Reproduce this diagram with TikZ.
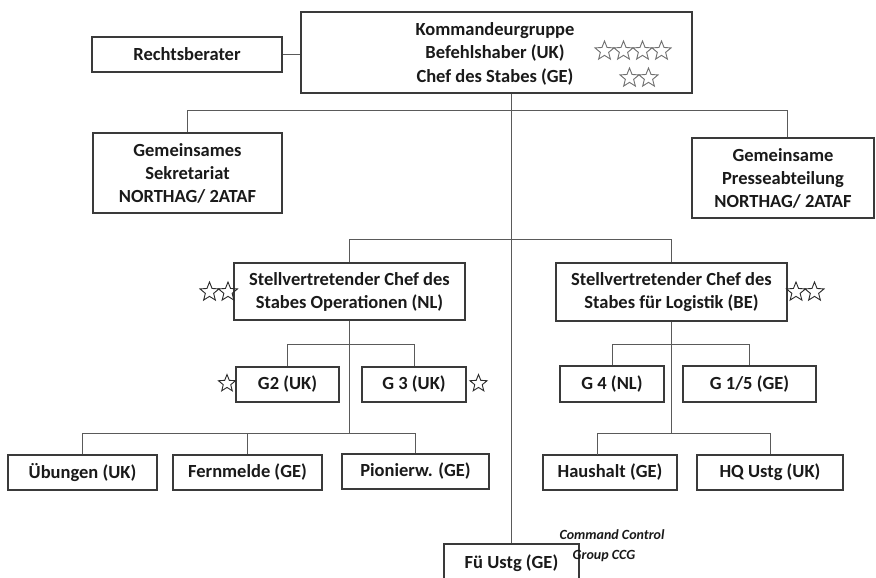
\documentclass[tikz,border=0pt]{standalone}
\usepackage{fontspec}
\usetikzlibrary{shapes.geometric}
\setmainfont{Carlito}
\definecolor{boxc}{HTML}{3A3A3A}
\definecolor{linec}{HTML}{5A5A5A}
\definecolor{txtc}{HTML}{1A1A1A}
\definecolor{starc}{HTML}{707070}
\definecolor{stard}{HTML}{2A2A2A}
\begin{document}
\begin{tikzpicture}[x=1pt,y=-1pt,
  box/.style={draw=boxc, line width=1.2pt, fill=white, inner sep=0pt, align=center,
    text=txtc, font=\bfseries\fontsize{18.5}{23}\selectfont},
  conn/.style={draw=linec, line width=1pt},
  starg/.style={star, star points=5, star point ratio=2.3, minimum size=20, inner sep=0pt,
    draw=starc, line width=0.9pt},
  stark/.style={star, star points=5, star point ratio=2.3, minimum size=20, inner sep=0pt,
    draw=stard, line width=0.9pt},
  note/.style={text=txtc, inner sep=0pt, font=\bfseries\itshape\fontsize{14}{16}\selectfont}]
\useasboundingbox (0,0) rectangle (876,578);
\fill[white] (0,0) rectangle (876,578);

% nodes
\node[box, minimum width=190, minimum height=35] (R) at (187,54.5) {Rechtsberater};
\node[box, minimum width=391, minimum height=81] (K) at (496.5,52.5) {};
\node[text=txtc, align=center, inner sep=0pt, font=\bfseries\fontsize{18.5}{23.5}\selectfont] (Kt) at (495,53.5)
  {Kommandeurgruppe\\Befehlshaber (UK)\\Chef des Stabes (GE)};
\node[starg] (Ka) at (604.5,51) {};
\node[starg] (Kb) at (623.5,51) {};
\node[starg] (Kc) at (642.5,51) {};
\node[starg] (Kd) at (661.5,51) {};
\node[starg] (Ke) at (629.5,78) {};
\node[starg] (Kf) at (648.5,78) {};
\node[box, minimum width=189, minimum height=80] (S) at (187.5,173)
  {Gemeinsames\\Sekretariat\\NORTHAG/ 2ATAF};
\node[box, minimum width=182, minimum height=80] (P) at (783,178)
  {Gemeinsame\\Presseabteilung\\NORTHAG/ 2ATAF};
\node[box, minimum width=231, minimum height=57] (O) at (349.5,291.5)
  {Stellvertretender Chef des\\Stabes Operationen (NL)};
\node[box, minimum width=231, minimum height=58] (L) at (671.5,292)
  {Stellvertretender Chef des\\Stabes für Logistik (BE)};
\node[stark] (Oa) at (209.5,292) {};
\node[stark] (Ob) at (228,292) {};
\node[stark] (La) at (796,292) {};
\node[stark] (Lb) at (814.5,292) {};
\node[box, minimum width=103, minimum height=35] (G2) at (287.5,384.5) {G2 (UK)};
\node[box, minimum width=104, minimum height=35] (G3) at (414,384.5) {G 3 (UK)};
\node[stark, minimum size=18] (G2s) at (227,383.5) {};
\node[stark, minimum size=18] (G3s) at (478.5,383.5) {};
\node[box, minimum width=104, minimum height=36] (G4) at (612,384) {G 4 (NL)};
\node[box, minimum width=133, minimum height=36] (G15) at (749.5,384) {G 1/5 (GE)};
\node[box, minimum width=149, minimum height=35] (U) at (82.5,472.5) {Übungen (UK)};
\node[box, minimum width=149, minimum height=35] (F) at (247.5,472.5) {Fernmelde (GE)};
\node[box, minimum width=147, minimum height=35] (Pi) at (415.5,471.5) {Pionierw. (GE)};
\node[box, minimum width=134, minimum height=35] (H) at (610,472.5) {Haushalt (GE)};
\node[box, minimum width=146, minimum height=35] (HQ) at (770,472.5) {HQ Ustg (UK)};
\node[box, minimum width=135, minimum height=38] (Fu) at (511.5,563) {Fü Ustg (GE)};
\node[note] (n1) at (612,535) {Command Control};
\node[note] (n2) at (604,556) {Group CCG};

% junction coordinates
\coordinate (topbus) at (0,110);
\coordinate (pj) at (787,110);
\coordinate (midbus) at (0,239);
\coordinate (gbus) at (0,344);
\coordinate (lowbus) at (0,433);
\coordinate (hj) at (597,455);

% connectors
\draw[conn] (R.east) -- (R.east -| K.west);
\draw[conn] (K.south -| Fu.north) -- (Fu.north);
\draw[conn] (S.north) -- (S.north |- topbus) -- (pj) -- (pj |- P.north);
\draw[conn] (O.north) -- (O.north |- midbus) -- (L.north |- midbus) -- (L.north);
\draw[conn] (O.south) -- (O.south |- lowbus);
\draw[conn] (G2.north) -- (G2.north |- gbus) -- (G3.north |- gbus) -- (G3.north);
\draw[conn] (U.north) -- (U.north |- lowbus) -- (Pi.north |- lowbus) -- (Pi.north);
\draw[conn] (F.north) -- (F.north |- lowbus);
\draw[conn] (L.south) -- (L.south |- lowbus);
\draw[conn] (G4.north) -- (G4.north |- gbus) -- (G15.north |- gbus) -- (G15.north);
\draw[conn] (hj) -- (hj |- lowbus) -- (HQ.north |- lowbus) -- (HQ.north);
\end{tikzpicture}
\end{document}
